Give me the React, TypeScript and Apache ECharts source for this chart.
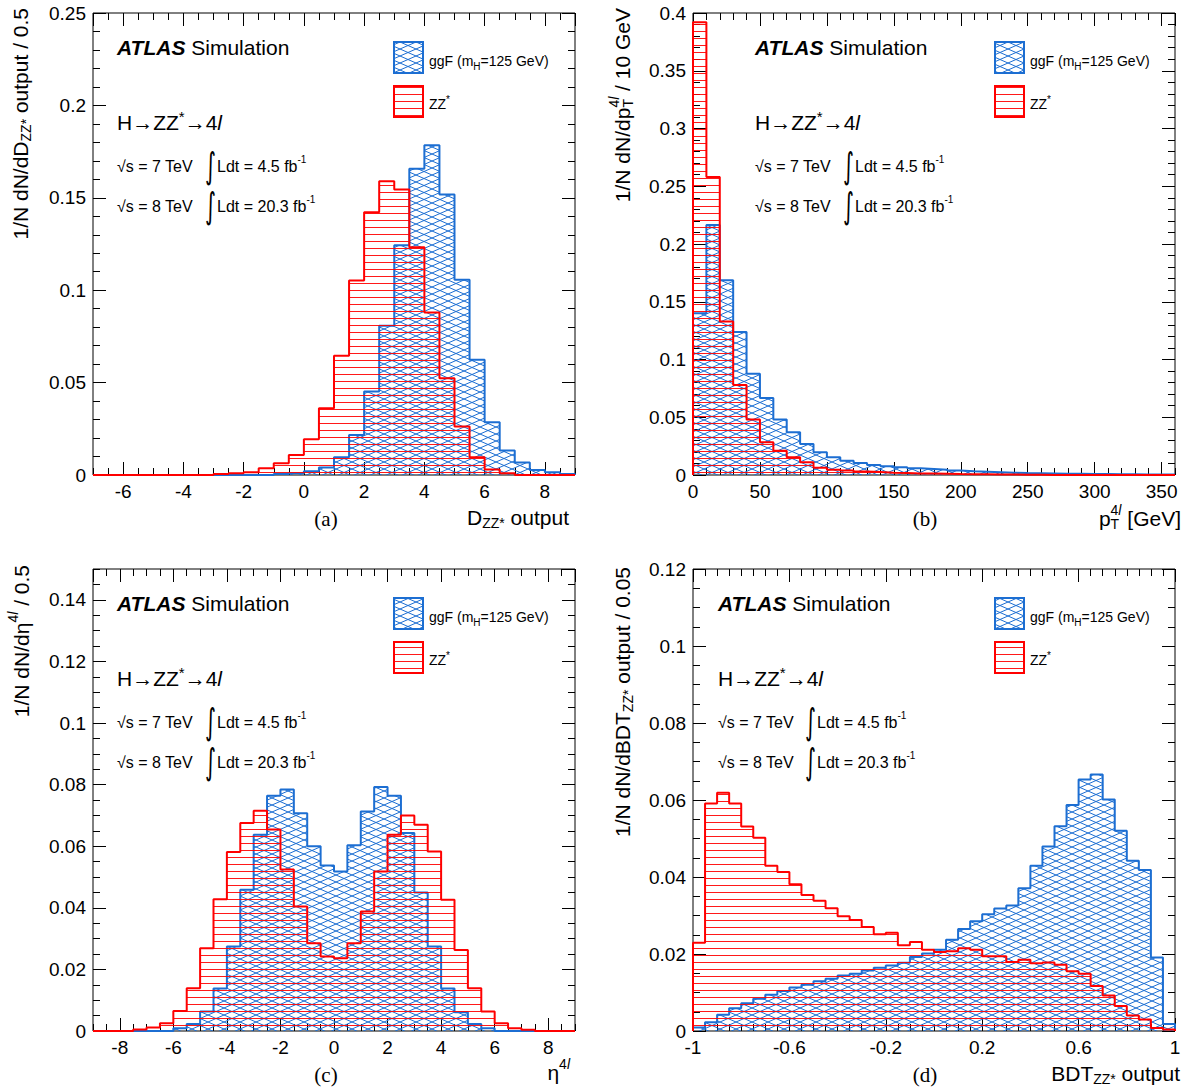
import React, { useEffect, useRef } from "react";
import * as echarts from "echarts";

// ---------------- data (normalised histograms) ----------------
// (a) D_ZZ* output, bins of 0.5 from -7 to 9
const aBinStart = -7;
const aBinWidth = 0.5;
const aGgF = [0, 0, 0, 0, 0, 0, 0, 0, 0, 0, 0, 0, 0.0005, 0.001, 0.002, 0.004, 0.0096, 0.0217, 0.0452, 0.0808, 0.1243, 0.1657, 0.1785, 0.1518, 0.1057, 0.0623, 0.0286, 0.0132, 0.0067, 0.0027, 0.0015, 0.0005];
const aZZ = [0, 0, 0, 0, 0, 0, 0, 0, 0.0005, 0.001, 0.0015, 0.0036, 0.0063, 0.0108, 0.0193, 0.0361, 0.0645, 0.1053, 0.1422, 0.159, 0.1545, 0.1232, 0.088, 0.0524, 0.0262, 0.0096, 0.003, 0.001, 0, 0, 0, 0];

// (b) pT(4l), bins of 10 GeV from 0 to 360
const bBinStart = 0;
const bBinWidth = 10;
const bGgF = [0.14, 0.2164, 0.1687, 0.1239, 0.0877, 0.0666, 0.048, 0.0371, 0.0269, 0.0197, 0.0153, 0.0124, 0.0104, 0.0087, 0.0075, 0.0067, 0.0058, 0.0052, 0.0046, 0.0038, 0.0032, 0.0028, 0.0024, 0.002, 0.0017, 0.0015, 0.0013, 0.0011, 0.001, 0.0009, 0.0008, 0.0007, 0.0006, 0.0005, 0.0004, 0.0004];
const bZZ = [0.392, 0.258, 0.133, 0.078, 0.048, 0.0284, 0.0211, 0.0153, 0.011, 0.0062, 0.0046, 0.0038, 0.003, 0.0025, 0.002, 0.0017, 0.0014, 0.0012, 0.001, 0.0008, 0.0007, 0.0006, 0.0005, 0.0004, 0.0003, 0.0002, 0, 0, 0, 0, 0, 0, 0, 0, 0, 0];

// (c) eta(4l), bins of 0.5 from -9 to 9
const cBinStart = -9;
const cBinWidth = 0.5;
const cGgF = [0, 0, 0, 0, 0, 0, 0.0009, 0.0023, 0.0063, 0.0138, 0.0274, 0.0459, 0.0637, 0.0764, 0.0784, 0.0707, 0.06, 0.0537, 0.0518, 0.0603, 0.0713, 0.0792, 0.0764, 0.0643, 0.045, 0.0274, 0.0138, 0.0061, 0.0023, 0.0009, 0, 0, 0, 0, 0, 0];
const cZZ = [0, 0, 0, 0.0005, 0.0011, 0.0025, 0.0065, 0.0139, 0.0269, 0.0428, 0.0581, 0.0675, 0.0715, 0.0654, 0.0524, 0.0404, 0.0285, 0.0242, 0.0236, 0.0285, 0.0388, 0.0518, 0.0637, 0.07, 0.067, 0.0583, 0.0426, 0.0263, 0.0139, 0.0063, 0.0025, 0.0009, 0.0004, 0, 0, 0];

// (d) BDT_ZZ* output, bins of 0.05 from -1 to 1
const dBinStart = -1;
const dBinWidth = 0.05;
const dGgF = [0.0009, 0.0023, 0.0042, 0.0059, 0.0072, 0.0084, 0.0094, 0.0104, 0.0113, 0.012, 0.0129, 0.0136, 0.0144, 0.0149, 0.0157, 0.0164, 0.017, 0.0177, 0.0192, 0.0201, 0.0211, 0.0237, 0.0265, 0.0285, 0.0303, 0.0318, 0.0326, 0.0371, 0.0429, 0.0479, 0.0532, 0.0587, 0.0653, 0.0666, 0.0601, 0.052, 0.0442, 0.0418, 0.0191, 0.0018];
const dZZ = [0.0229, 0.0591, 0.0619, 0.0591, 0.0531, 0.0502, 0.0429, 0.0413, 0.0381, 0.0353, 0.0338, 0.0319, 0.0298, 0.0288, 0.027, 0.0251, 0.0255, 0.0223, 0.0231, 0.0211, 0.0205, 0.0207, 0.0215, 0.0211, 0.0194, 0.0194, 0.0179, 0.0185, 0.0176, 0.0178, 0.0172, 0.0155, 0.0149, 0.0117, 0.0092, 0.0065, 0.004, 0.003, 0.0008, 0.0004];

// axis ranges / tick steps
const aX = { min: -7, max: 9, split: 8, minor: 0.5, showMin: false, showMax: false };
const aY = { min: 0, max: 0.25, interval: 0.05, minor: 0.01, showMin: true, showMax: true };
const bX = { min: 0, max: 360, interval: 50, minor: 10, showMin: true, showMax: false };
const bY = { min: 0, max: 0.4, interval: 0.05, minor: 0.01, showMin: true, showMax: true };
const cX = { min: -9, max: 9, split: 9, minor: 0.5, showMin: false, showMax: false };
const cY = { min: 0, max: 0.15, interval: 0.02, minor: 0.005, showMin: true, showMax: false };
const dX = { min: -1, max: 1, interval: 0.4, minor: 0.05, showMin: true, showMax: true };
const dY = { min: 0, max: 0.12, interval: 0.02, minor: 0.005, showMin: true, showMax: true };

// ---------------- styling ----------------
const FONT = '"Liberation Sans", Arial, Helvetica, sans-serif';
const SERIF = '"Liberation Serif", "Times New Roman", serif';
const SYM = '"DejaVu Sans", "Liberation Sans", sans-serif';
const BLUE = "#1c6ed2";
const RED = "#ff0000";

let measureCtx: CanvasRenderingContext2D | null = null;
function mw(t: string, size: number, italic: boolean, bold: boolean, fam: string) {
  if (!measureCtx) measureCtx = document.createElement("canvas").getContext("2d");
  const ctx = measureCtx!;
  ctx.font = `${italic ? "italic" : "normal"} ${bold ? "bold" : "normal"} ${size}px ${fam}`;
  return ctx.measureText(t).width;
}

type Seg = { t: string; s: number; dy?: number; it?: boolean; b?: boolean; fam?: string; mark?: boolean; back?: boolean; close?: boolean };

function run(x: number, y: number, segs: Seg[], align: "left" | "right" | "center" = "left", rotation = 0, scaleY = 1) {
  let cursor = 0;
  let markX = 0;
  let markEnd = 0;
  const placed: { sg: Seg; x: number; fam: string }[] = [];
  for (const sg of segs) {
    const fam = sg.fam || FONT;
    const w = mw(sg.t, sg.s, !!sg.it, !!sg.b, fam);
    if (sg.mark) { markX = cursor; markEnd = cursor; }
    if (sg.back) { markEnd = Math.max(markEnd, cursor); cursor = markX; }
    placed.push({ sg, x: cursor, fam });
    cursor += w;
    if (sg.close) cursor = Math.max(cursor, markEnd);
  }
  const off = align === "right" ? -cursor : align === "center" ? -cursor / 2 : 0;
  return {
    type: "group",
    x,
    y,
    rotation,
    scaleY,
    silent: true,
    children: placed.map((p) => ({
      type: "text",
      x: p.x + off,
      y: p.sg.dy || 0,
      style: {
        text: p.sg.t,
        fontSize: p.sg.s,
        fontFamily: p.fam,
        fontStyle: p.sg.it ? "italic" : "normal",
        fontWeight: p.sg.b ? "bold" : "normal",
        fill: "#000",
        align: "left",
        verticalAlign: "middle",
      },
    })),
  };
}

function histData(start: number, width: number, vals: number[]) {
  const n = vals.length;
  const pts: number[][] = [[start, 0]];
  for (let i = 0; i < n; i++) pts.push([+(start + i * width).toFixed(6), vals[i]]);
  const end = +(start + n * width).toFixed(6);
  pts.push([end, vals[n - 1]]);
  pts.push([end, 0]);
  return pts;
}

function axisSet(dim: "x" | "y", g: number, sp: any) {
  const isX = dim === "x";
  const base = {
    type: "value",
    gridIndex: g,
    min: sp.min,
    max: sp.max,
    axisLine: { show: false, onZero: false },
    splitLine: { show: false },
    minorTick: { show: false },
    minorSplitLine: { show: false },
    silent: true,
  };
  const majorScale = sp.interval != null ? { interval: sp.interval } : { splitNumber: sp.split };
  const lineStyle = { color: "#000", width: 1 };
  const majorTick = { show: true, inside: true, length: 13, lineStyle };
  const minorTick = { show: true, inside: true, length: 7, lineStyle };
  const noLabel = { show: false };
  return [
    {
      ...base,
      ...majorScale,
      position: isX ? "bottom" : "left",
      axisTick: majorTick,
      axisLabel: {
        show: true,
        margin: 7,
        fontSize: 19,
        fontFamily: FONT,
        color: "#000",
        showMinLabel: sp.showMin,
        showMaxLabel: sp.showMax,
        hideOverlap: false,
      },
    },
    { ...base, interval: sp.minor, position: isX ? "bottom" : "left", axisTick: minorTick, axisLabel: noLabel },
    { ...base, ...majorScale, position: isX ? "top" : "right", axisTick: majorTick, axisLabel: noLabel },
    { ...base, interval: sp.minor, position: isX ? "top" : "right", axisTick: minorTick, axisLabel: noLabel },
  ];
}

function makeRedHatch() {
  const c = document.createElement("canvas");
  c.width = 8;
  c.height = 7;
  const g = c.getContext("2d")!;
  g.fillStyle = "rgba(255,0,0,0.9)";
  g.fillRect(0, 3, 8, 1);
  return c;
}

function makeBlueHatch(w: number, h: number) {
  const c = document.createElement("canvas");
  c.width = w;
  c.height = h;
  const g = c.getContext("2d")!;
  g.strokeStyle = BLUE;
  g.lineWidth = 1;
  const s = h / w;
  for (const oy of [-h, 0, h]) {
    g.beginPath();
    g.moveTo(-2, oy - 2 * s);
    g.lineTo(w + 2, oy + h + 2 * s);
    g.stroke();
    g.beginPath();
    g.moveTo(-2, oy + h + 2 * s);
    g.lineTo(w + 2, oy - 2 * s);
    g.stroke();
  }
  return c;
}

function integral(x: number, y: number) {
  return run(x, y, [{ t: "\u222B", s: 21, fam: SYM }], "left", 0, 1.7);
}

function panelTexts(ax: number, y0: number, intX: number, ldtX: number, legX: number, legTX: number, bluePat: any, redPat: any) {
  return [
    run(ax, y0 + 47, [{ t: "ATLAS", s: 21, b: true, it: true }, { t: " Simulation", s: 21 }]),
    run(ax, y0 + 122, [{ t: "H\u2192ZZ", s: 21 }, { t: "*", s: 15, dy: -6 }, { t: "\u21924", s: 21 }, { t: "l", s: 21, it: true }]),
    run(ax, y0 + 166, [{ t: "\u221As = 7 TeV", s: 16 }]),
    integral(intX, y0 + 166),
    run(ldtX, y0 + 166, [{ t: "Ldt = 4.5 fb", s: 16 }, { t: "-1", s: 10, dy: -7 }]),
    run(ax, y0 + 206, [{ t: "\u221As = 8 TeV", s: 16 }]),
    integral(intX, y0 + 206),
    run(ldtX, y0 + 206, [{ t: "Ldt = 20.3 fb", s: 16 }, { t: "-1", s: 10, dy: -7 }]),
    { type: "rect", silent: true, shape: { x: legX, y: y0 + 42, width: 29, height: 31 }, style: { fill: bluePat, stroke: BLUE, lineWidth: 2 } },
    { type: "rect", silent: true, shape: { x: legX, y: y0 + 86, width: 29, height: 31 }, style: { fill: redPat, stroke: RED, lineWidth: 2 } },
    run(legTX, y0 + 61, [{ t: "ggF (m", s: 14 }, { t: "H", s: 10, dy: 5 }, { t: "=125 GeV)", s: 14 }]),
    run(legTX, y0 + 104, [{ t: "ZZ", s: 14 }, { t: "*", s: 10, dy: -5 }]),
  ];
}

export default function App() {
  const ref = useRef<HTMLDivElement>(null);

  useEffect(() => {
    if (!ref.current) return;
    const chart = echarts.init(ref.current, null, { renderer: "svg", width: 1188, height: 1090 });

    const bw = 16;
    const bh = 7;
    const bluePat = { image: makeBlueHatch(bw, bh), repeat: "repeat", imageWidth: bw, imageHeight: bh };
    const redPat = { image: makeRedHatch(), repeat: "repeat", imageWidth: 8, imageHeight: 7 };

    const grids = [
      { left: 93, top: 13, width: 482, height: 462 },
      { left: 693, top: 13, width: 482, height: 462 },
      { left: 93, top: 569, width: 482, height: 462 },
      { left: 693, top: 569, width: 482, height: 462 },
    ].map((g) => ({ ...g, show: true, borderColor: "#000", borderWidth: 1, backgroundColor: "transparent" }));

    const specs = [
      { x: aX, y: aY, start: aBinStart, width: aBinWidth, ggf: aGgF, zz: aZZ },
      { x: bX, y: bY, start: bBinStart, width: bBinWidth, ggf: bGgF, zz: bZZ },
      { x: cX, y: cY, start: cBinStart, width: cBinWidth, ggf: cGgF, zz: cZZ },
      { x: dX, y: dY, start: dBinStart, width: dBinWidth, ggf: dGgF, zz: dZZ },
    ];

    const xAxis: any[] = [];
    const yAxis: any[] = [];
    const series: any[] = [];
    specs.forEach((p, g) => {
      xAxis.push(...axisSet("x", g, p.x));
      yAxis.push(...axisSet("y", g, p.y));
      series.push({
        type: "line",
        name: "ggF",
        xAxisIndex: 4 * g,
        yAxisIndex: 4 * g,
        data: histData(p.start, p.width, p.ggf),
        step: "end",
        symbol: "none",
        showSymbol: false,
        clip: false,
        silent: true,
        z: 2,
        lineStyle: { color: BLUE, width: 2 },
        itemStyle: { color: BLUE },
        areaStyle: { color: bluePat, opacity: 1 },
      });
      series.push({
        type: "line",
        name: "ZZ*",
        xAxisIndex: 4 * g,
        yAxisIndex: 4 * g,
        data: histData(p.start, p.width, p.zz),
        step: "end",
        symbol: "none",
        showSymbol: false,
        clip: false,
        silent: true,
        z: 3,
        lineStyle: { color: RED, width: 2 },
        itemStyle: { color: RED },
        areaStyle: { color: redPat, opacity: 1 },
      });
    });

    const R = Math.PI / 2;
    const elements: any[] = [
      ...panelTexts(117, 0, 205, 217, 394, 429, bluePat, redPat),
      ...panelTexts(755, 0, 843, 855, 995, 1030, bluePat, redPat),
      ...panelTexts(117, 556, 205, 217, 394, 429, bluePat, redPat),
      ...panelTexts(718, 556, 805, 817, 995, 1030, bluePat, redPat),
      // y-axis titles
      run(20, 8, [{ t: "1/N dN/dD", s: 21 }, { t: "ZZ*", s: 14, dy: 6 }, { t: " output / 0.5", s: 21 }], "right", R),
      run(622, 8, [{ t: "1/N dN/dp", s: 21 }, { t: "T", s: 14, dy: 6, mark: true }, { t: "4", s: 14, dy: -8, back: true }, { t: "l", s: 14, dy: -8, it: true, close: true }, { t: " / 10 GeV", s: 21 }], "right", R),
      run(21, 565, [{ t: "1/N dN/d\u03B7", s: 21 }, { t: "4", s: 14, dy: -8 }, { t: "l", s: 14, dy: -8, it: true }, { t: " / 0.5", s: 21 }], "right", R),
      run(622, 567, [{ t: "1/N dN/dBDT", s: 21 }, { t: "ZZ*", s: 14, dy: 6 }, { t: " output / 0.05", s: 21 }], "right", R),
      // x-axis titles
      run(569, 517, [{ t: "D", s: 21 }, { t: "ZZ*", s: 14, dy: 6 }, { t: " output", s: 21 }], "right"),
      run(1181, 518, [{ t: "p", s: 21 }, { t: "T", s: 14, dy: 6, mark: true }, { t: "4", s: 14, dy: -8, back: true }, { t: "l", s: 14, dy: -8, it: true, close: true }, { t: " [GeV]", s: 21 }], "right"),
      run(570, 1072, [{ t: "\u03B7", s: 21 }, { t: "4", s: 14, dy: -8 }, { t: "l", s: 14, dy: -8, it: true }], "right"),
      run(1180, 1073, [{ t: "BDT", s: 21 }, { t: "ZZ*", s: 14, dy: 6 }, { t: " output", s: 21 }], "right"),
      // panel labels
      run(326, 519, [{ t: "(a)", s: 21, fam: SERIF }], "center"),
      run(925, 519, [{ t: "(b)", s: 21, fam: SERIF }], "center"),
      run(326, 1075, [{ t: "(c)", s: 21, fam: SERIF }], "center"),
      run(925, 1075, [{ t: "(d)", s: 21, fam: SERIF }], "center"),
    ];

    chart.setOption({
      animation: false,
      backgroundColor: "#ffffff",
      textStyle: { fontFamily: FONT },
      grid: grids,
      xAxis,
      yAxis,
      series,
      graphic: { elements },
    });

    return () => {
      chart.dispose();
    };
  }, []);

  return (
    <div
      ref={ref}
      style={{ position: "absolute", left: 0, top: 0, width: 1188, height: 1090, background: "#fff" }}
    />
  );
}
